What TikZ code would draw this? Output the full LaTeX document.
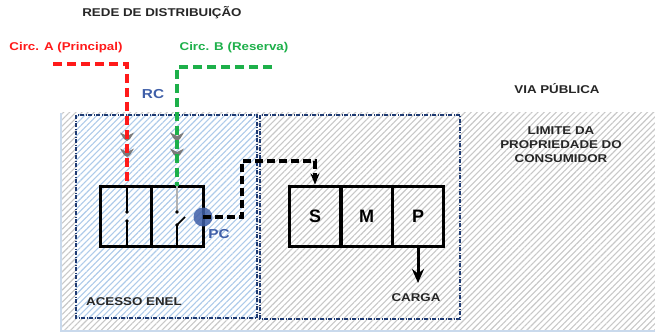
\documentclass[tikz,border=0pt]{standalone}
\usepackage{fontspec}
\setmainfont{Liberation Sans}
\newfontfamily\lbl{Liberation Sans}[FakeStretch=1.18]
\usetikzlibrary{patterns.meta,arrows.meta}
\definecolor{navy}{HTML}{1F3B73}
\definecolor{cred}{HTML}{FF1A1A}
\definecolor{cgreen}{HTML}{1DB04A}
\definecolor{pcblue}{HTML}{3F5FA8}
\definecolor{hgray}{HTML}{C8C8C8}
\definecolor{hblue}{HTML}{AECBEA}
\definecolor{edgeblue}{HTML}{C9D9EC}
\definecolor{chevgray}{HTML}{7A7A7A}
\begin{document}
\begin{tikzpicture}[x=1pt,y=-1pt,
  lab/.style={font={\lbl\bfseries\fontsize{11.3pt}{14pt}\selectfont}, text=black!85, inner sep=0pt},
  biglab/.style={font={\lbl\bfseries\fontsize{13pt}{15pt}\selectfont}, text=pcblue, inner sep=0pt},
  cell/.style={draw, line width=3pt, minimum width=51pt, minimum height=60pt, inner sep=0pt,
               font={\bfseries\fontsize{18pt}{20pt}\selectfont}},
  swbox/.style={draw, line width=3pt, minimum width=103pt, minimum height=60pt, inner sep=0pt},
  zone/.style={draw=navy, line width=1.2pt, dash pattern=on 4pt off 1.5pt on 1pt off 1.5pt},
  feed/.style={line width=3.3pt, dash pattern=on 9pt off 5pt},
  bdash/.style={line width=3.3pt, dash pattern=on 8pt off 4pt},
  chev/.pic={\fill[chevgray] (-7,-4) -- (0,-0.5) -- (7,-4) -- (3,2.5) -- (0,4.5) -- (-3,2.5) -- cycle;}
]
\useasboundingbox (0,0) rectangle (655,334);
% hatched background regions
\fill[white] (0,0) rectangle (655,334);
\path[pattern={Lines[angle=45,distance=4.3pt,line width=1.1pt]}, pattern color=hgray] (60,113) rectangle (655,331);
\draw[edgeblue, line width=1.8pt] (61,113) -- (61,331) -- (655,331);
\fill[white] (76,115) rectangle (257,318);
\path[pattern={Lines[angle=45,distance=4.3pt,line width=1.1pt]}, pattern color=hblue] (76,115) rectangle (257,318);
\draw[zone] (76,115) rectangle (257,318);
\draw[zone] (260,115) rectangle (460,319);

% texts
\node[lab] (rede) at (162,13) {REDE DE DISTRIBUIÇÃO};
\node[lab, text=cred] (circa) at (66,48) {Circ. A (Principal)};
\node[lab, text=cgreen] (circb) at (234,48) {Circ. B (Reserva)};
\node[biglab] (rc) at (153,94) {RC};
\node[lab] (via) at (557,89) {VIA PÚBLICA};
\node[lab, align=center] (limite) at (561,145) {LIMITE DA\\PROPRIEDADE DO\\CONSUMIDOR};
\node[lab, anchor=west] (acesso) at (86,302) {ACESSO ENEL};

% chevrons
\pic at (127,136.5) {chev};
\pic at (127,152.5) {chev};
\pic at (177,136.5) {chev};
\pic at (177,152.5) {chev};

% switch box
\node[swbox] (sw) at (151.5,216) {};
\draw[line width=3pt] (sw.north) -- (sw.south);
% left switch (closed)
\draw[line width=2.2pt] (127,186) -- (127,212);
\fill (127,212) circle (1.8);
\fill (127,221) circle (1.8);
\draw[line width=2.2pt] (127,221) -- (sw.south -| 127,0);
% right switch (open)
\draw[gray!60, line width=1.2pt] (177,186) -- (177,212);
\fill (177,212) circle (1.8);
\fill (177,225) circle (1.8);
\draw[line width=1.6pt] (177,225) -- (185,217);
\draw[line width=2.2pt] (177,225) -- (sw.south -| 177,0);

% feeders
\coordinate (ra) at (53,64);
\coordinate (rin) at (127,186);
\draw[feed, cred] (ra) -| (rin);
\coordinate (gb) at (272,67);
\coordinate (gin) at (177,186);
\draw[feed, cgreen] (gb) -| (gin);

% S M P
\node[cell] (S) at (315,216) {S};
\node[cell] (M) at (366.5,216) {M};
\node[cell] (P) at (418,216) {P};

% PC
\node[circle, fill=pcblue, fill opacity=0.85, minimum size=19pt, inner sep=0pt] (pc) at (203,217) {};
\node[biglab] (pclab) at (219,234) {PC};

% connection PC -> S
\coordinate (bend) at (242,161);
\draw[bdash, -{Stealth[length=11pt,width=9pt]}] (pc.center) -| (bend) -| (S.north);

% load
\coordinate (carga) at (418,283);
\draw[line width=3pt, -{Stealth[length=14pt,width=12pt]}] (P.south) -- (carga);
\node[lab] (cargalab) at (416,298) {CARGA};
\end{tikzpicture}
\end{document}
